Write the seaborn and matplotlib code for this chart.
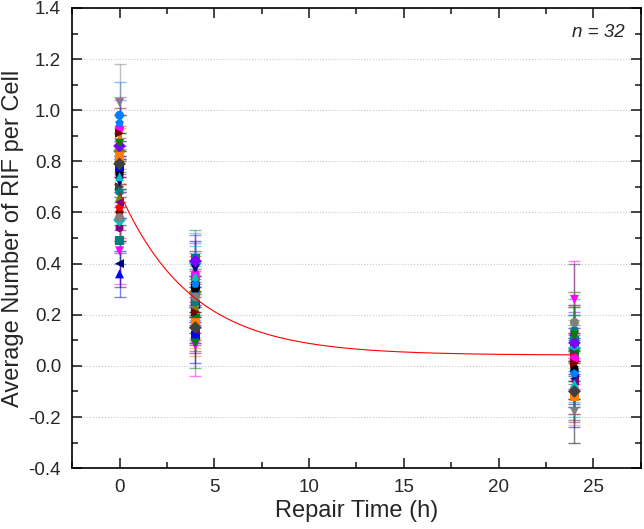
import numpy as np
import pandas as pd
import seaborn as sns
import matplotlib
matplotlib.use('Agg')
import matplotlib.pyplot as plt
from matplotlib.ticker import MultipleLocator, FormatStrFormatter

# repair time points (h)
times = [0, 4, 24]

# average RIF per cell for each of the 32 cells at 0 h, 4 h, 24 h
rif_0h = [0.81, 0.76, 0.36, 0.45, 0.84, 0.40, 0.70, 0.54, 0.60, 0.49, 0.98, 0.89, 1.03, 0.57, 0.80, 0.70,
          0.75, 0.62, 0.78, 0.93, 0.66, 0.72, 0.86, 0.64, 0.91, 0.68, 0.95, 0.82, 0.58, 0.74, 0.87, 0.79]
rif_4h = [0.31, 0.34, 0.20, 0.08, 0.29, 0.24, 0.26, 0.18, 0.33, 0.42, 0.28, 0.16, 0.22, 0.40, 0.19, 0.25,
          0.30, 0.27, 0.12, 0.36, 0.23, 0.38, 0.41, 0.14, 0.21, 0.25, 0.32, 0.17, 0.27, 0.35, 0.09, 0.15]
rif_24h = [0.08, 0.02, 0.00, 0.26, 0.06, -0.05, 0.11, -0.09, 0.04, 0.10, -0.02, -0.08, -0.18, 0.07, 0.05, 0.05,
           -0.01, 0.13, -0.11, 0.03, 0.15, -0.04, 0.09, -0.06, 0.01, 0.14, -0.03, -0.12, 0.17, -0.07, 0.12, -0.10]

# error bars
err_0h = [0.10, 0.08, 0.09, 0.13, 0.10, 0.09, 0.12, 0.10, 0.11, 0.09, 0.13, 0.09, 0.15, 0.12, 0.11, 0.10,
          0.09, 0.12, 0.10, 0.12, 0.11, 0.10, 0.12, 0.11, 0.10, 0.13, 0.09, 0.11, 0.10, 0.12, 0.11, 0.10]
err_4h = [0.10, 0.09, 0.11, 0.12, 0.10, 0.11, 0.09, 0.10, 0.12, 0.11, 0.10, 0.12, 0.11, 0.12, 0.10, 0.09,
          0.11, 0.10, 0.11, 0.12, 0.10, 0.11, 0.10, 0.09, 0.11, 0.10, 0.12, 0.10, 0.11, 0.12, 0.10, 0.09]
err_24h = [0.12, 0.11, 0.13, 0.15, 0.12, 0.11, 0.13, 0.12, 0.11, 0.13, 0.12, 0.11, 0.12, 0.13, 0.11, 0.35,
           0.12, 0.11, 0.13, 0.12, 0.14, 0.11, 0.12, 0.13, 0.11, 0.12, 0.13, 0.11, 0.12, 0.13, 0.11, 0.12]

# exponential decay fit: y = y0 + A*exp(-t/tau)
fit_y0, fit_A, fit_tau = 0.042, 0.637, 3.8

base_colors = ['#000000', '#FF0000', '#0000FF', '#FF00FF', '#808000', '#000080', '#8000FF', '#800080',
               '#800000', '#008080', '#0080FF', '#FF8000', '#808080', '#00C0C0', '#008000', '#404040']
base_markers = ['s', 'o', '^', 'v', 'D', '<', '>', 'h', 'p']

n_cells = len(rif_0h)
names = ['cell%02d' % (i + 1) for i in range(n_cells)]
colors = [base_colors[i % len(base_colors)] for i in range(n_cells)]
markers = [base_markers[i % len(base_markers)] for i in range(n_cells)]

df = pd.DataFrame({
    'cell': names * 3,
    'time': [t for t in times for _ in range(n_cells)],
    'value': rif_0h + rif_4h + rif_24h,
    'err': err_0h + err_4h + err_24h,
})

sns.set_style('ticks')
plt.rcParams['font.family'] = ['Liberation Sans', 'DejaVu Sans']

fig, ax = plt.subplots(figsize=(6.44, 5.29), dpi=100)
fig.subplots_adjust(left=0.112, right=0.995, top=0.985, bottom=0.115)

# error bars, per cell
for i, name in enumerate(names):
    sub = df[df['cell'] == name]
    ax.errorbar(sub['time'], sub['value'], yerr=sub['err'], fmt='none', ecolor=colors[i],
                alpha=0.5, elinewidth=1, capsize=4, capthick=1, zorder=1)

sns.scatterplot(data=df, x='time', y='value', hue='cell', style='cell', hue_order=names,
                style_order=names, palette=colors, markers=markers, s=42, linewidth=0,
                legend=False, ax=ax, zorder=2)

fit_x = np.linspace(0, 24, 300)
fit_y = fit_y0 + fit_A * np.exp(-fit_x / fit_tau)
sns.lineplot(x=fit_x, y=fit_y, color='red', linewidth=0.8, ax=ax, zorder=3)

ax.set_xlim(-2.5, 27.5)
ax.set_ylim(-0.4, 1.4)
ax.xaxis.set_major_locator(MultipleLocator(5))
ax.xaxis.set_minor_locator(MultipleLocator(2.5))
ax.yaxis.set_major_locator(MultipleLocator(0.2))
ax.yaxis.set_minor_locator(MultipleLocator(0.1))
ax.yaxis.set_major_formatter(FormatStrFormatter('%.1f'))
ax.tick_params(which='both', direction='in', top=True, right=True, labelsize=13.5, pad=8)
ax.tick_params(which='major', length=7, width=1.2)
ax.tick_params(which='minor', length=4, width=1.2)
for sp in ax.spines.values():
    sp.set_linewidth(1.2)
    sp.set_color('black')

ax.yaxis.grid(True, which='major', linestyle=':', color='#c8c8c8', linewidth=0.8)
ax.set_axisbelow(True)

ax.set_xlabel('Repair Time (h)', fontsize=17, labelpad=3)
ax.set_ylabel('Average Number of RIF per Cell', fontsize=17, labelpad=3)
ax.text(0.972, 0.965, 'n = 32', transform=ax.transAxes, ha='right', va='top',
        fontsize=13.5, fontstyle='italic')

fig.savefig('out.png', dpi=100)
